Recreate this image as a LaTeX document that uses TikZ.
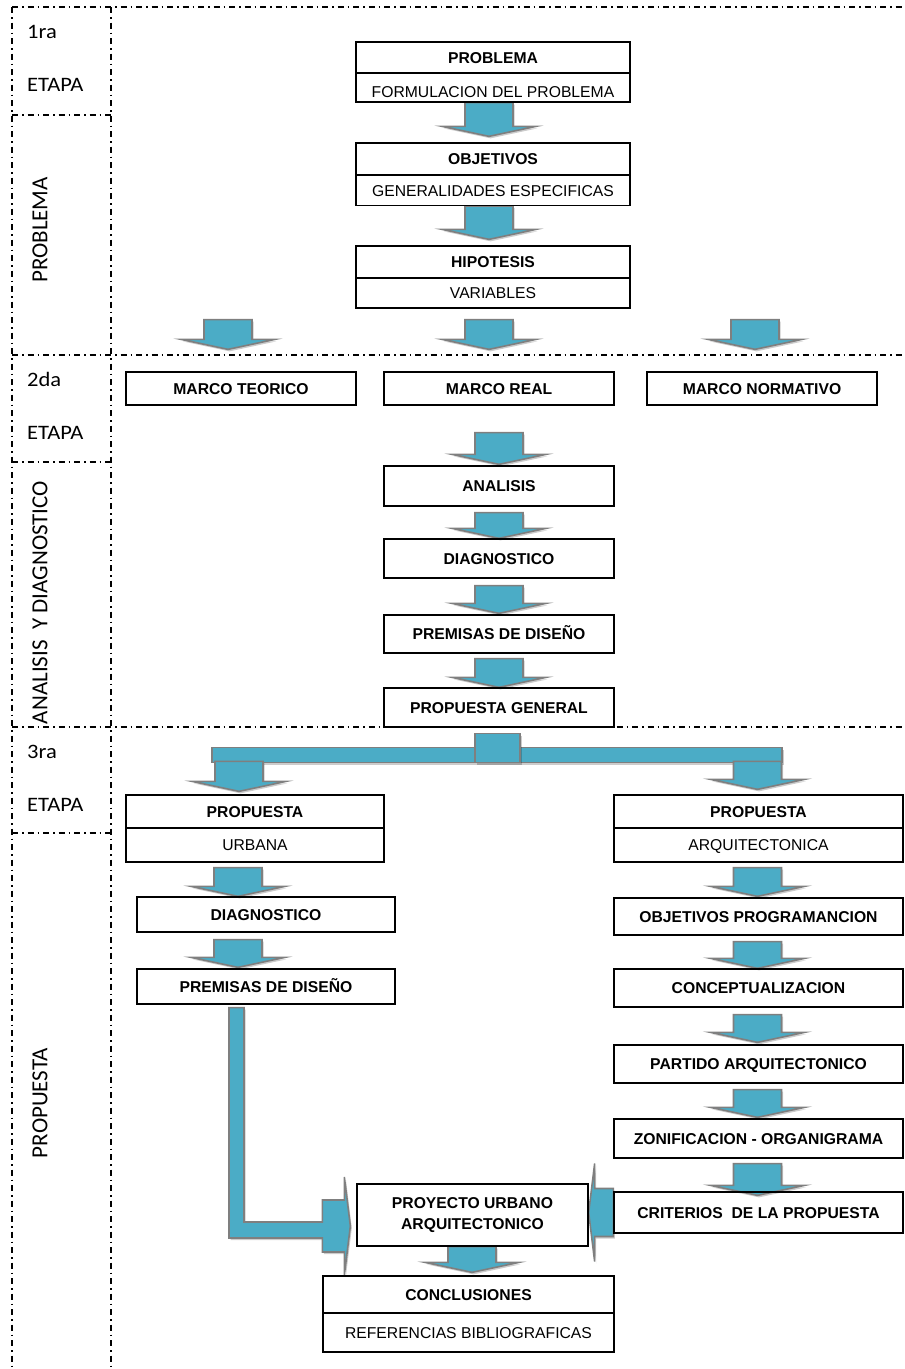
\documentclass[tikz,border=0pt]{standalone}
\usepackage{fontspec}
\setmainfont{Liberation Sans}
\newfontfamily\stagefont{Carlito}
\usetikzlibrary{calc,shadows}
\pgfdeclarelayer{arrows}
\pgfsetlayers{arrows,main}

\definecolor{flowteal}{HTML}{4BACC6}
\definecolor{flowgray}{HTML}{7F7F7F}

\tikzset{
  frame/.style={line width=1.1pt, dash pattern=on 6pt off 4pt on 1.5pt off 4pt},
  cell/.style 2 args={draw=black, line width=1.3pt, inner sep=0pt,
    minimum width=#1pt, minimum height=#2pt, align=center,
    text height=11.2pt, text depth=0pt},
  titletext/.style={font=\fontsize{15.7}{21}\selectfont\bfseries},
  subtext/.style={font=\fontsize{15.7}{18}\selectfont},
  stagetext/.style={font=\stagefont\fontsize{20.5}{24}\selectfont, inner sep=0pt},
  stagetitle/.style={font=\stagefont\fontsize{23}{26}\selectfont, inner sep=0pt, rotate=90},
  blockarrow/.style={fill=flowteal, draw=flowgray, line width=1.6pt, line join=miter,
    drop shadow={shadow xshift=1.5pt, shadow yshift=-2pt, fill=black, opacity=0.2}},
}

% downward block arrow: shaft starts at the height of #1, tip at #2
\newcommand\blockdown[2]{%
  \path[blockarrow] let \p1=#1, \p2=#2 in
    ({\x2-24pt},\y1) -- ({\x2+24pt},\y1) -- ({\x2+24pt},{\y2+10pt})
    -- ({\x2+47pt},{\y2+10pt}) -- (\x2,\y2) -- ({\x2-47pt},{\y2+10pt})
    -- ({\x2-24pt},{\y2+10pt}) -- cycle;}
\newcommand\wide[1]{\scalebox{1.1}[1]{#1}}

\begin{document}
\begin{tikzpicture}[x=1pt, y=-1pt]
\useasboundingbox (0,0) rectangle (905,1369);

% stage column
\draw[frame] (12,7) -- (905,7);
\draw[frame] (12,7) -- (12,1369);
\draw[frame] (111,7) -- (111,1369);
\draw[frame] (12,115) -- (111,115);
\draw[frame] (12,355) -- (905,355);
\draw[frame] (12,462) -- (111,462);
\draw[frame] (12,727) -- (905,727);
\draw[frame] (12,833) -- (111,833);

\node[stagetext, anchor=base west] (st1a) at (27,38) {\wide{1ra}};
\node[stagetext, anchor=base west] (st1b) at (27,91) {\wide{ETAPA}};
\node[stagetitle] (st1c) at (40,230) {PROBLEMA};
\node[stagetext, anchor=base west] (st2a) at (27,386) {\wide{2da}};
\node[stagetext, anchor=base west] (st2b) at (27,439) {\wide{ETAPA}};
\node[stagetitle] (st2c) at (40,602.5) {ANALISIS\ \ Y DIAGNOSTICO};
\node[stagetext, anchor=base west] (st3a) at (27,758) {\wide{3ra}};
\node[stagetext, anchor=base west] (st3b) at (27,811) {\wide{ETAPA}};
\node[stagetitle] (st3c) at (40,1103) {PROPUESTA};

% first stage
\node[cell={274}{31}, titletext] (prob) at (493,57.5) {PROBLEMA};
\node[cell={274}{29}, subtext, text height=19pt] (probsub) at (493,87.5) {FORMULACION DEL PROBLEMA};
\node[cell={274}{32}, titletext] (obj) at (493,159) {OBJETIVOS};
\node[cell={274}{30}, subtext] (objsub) at (493,190.5) {GENERALIDADES ESPECIFICAS};
\node[cell={274}{32}, titletext] (hip) at (493,262) {HIPOTESIS};
\node[cell={274}{30}, subtext] (hipsub) at (493,293) {VARIABLES};

% second stage
\node[cell={230}{33}, titletext] (mteo) at (241,388.5) {MARCO TEORICO};
\node[cell={230}{33}, titletext] (mreal) at (499,388.5) {MARCO REAL};
\node[cell={230}{33}, titletext] (mnorm) at (762,388.5) {MARCO NORMATIVO};
\node[cell={230}{40}, titletext] (anal) at (499,486) {ANALISIS};
\node[cell={230}{39}, titletext] (diag) at (499,558.5) {DIAGNOSTICO};
\node[cell={230}{38}, titletext] (prem) at (499,634) {PREMISAS DE DISEÑO};
\node[cell={230}{39}, titletext] (pgen) at (499,707.5) {PROPUESTA GENERAL};

% third stage
\node[cell={258}{33}, titletext] (purb) at (255,811.5) {PROPUESTA};
\node[cell={258}{34}, subtext] (purbsub) at (255,845) {URBANA};
\node[cell={289}{33}, titletext] (parq) at (758.5,811.5) {PROPUESTA};
\node[cell={289}{34}, subtext] (parqsub) at (758.5,845) {ARQUITECTONICA};
\node[cell={258}{35}, titletext] (diagl) at (266,914.5) {DIAGNOSTICO};
\node[cell={258}{35}, titletext] (preml) at (266,986.5) {PREMISAS DE DISEÑO};
\node[cell={289}{37}, titletext] (objprog) at (758.5,916.5) {OBJETIVOS PROGRAMANCION};
\node[cell={289}{38}, titletext] (concep) at (758.5,988) {CONCEPTUALIZACION};
\node[cell={289}{38}, titletext] (partido) at (758.5,1064) {PARTIDO ARQUITECTONICO};
\node[cell={289}{39}, titletext] (zonif) at (758.5,1138.5) {ZONIFICACION - ORGANIGRAMA};
\node[cell={289}{41}, titletext] (crit) at (758.5,1212.5) {CRITERIOS\ \ DE LA PROPUESTA};
\node[cell={231}{62}, titletext, text height=, text depth=] (proy) at (472.5,1215) {PROYECTO URBANO\\ARQUITECTONICO};
\node[cell={291}{37}, titletext] (concl) at (468.5,1294.5) {CONCLUSIONES};
\node[cell={291}{39}, subtext] (conclsub) at (468.5,1332.5) {REFERENCIAS BIBLIOGRAFICAS};

\begin{pgfonlayer}{arrows}
% first stage flow
\blockdown{(probsub.south)}{($(obj.north)+(-4,-6)$)}
\blockdown{(objsub.south)}{($(hip.north)+(-4,-6)$)}
\blockdown{($(hipsub.south)+(0,11)$)}{($(mteo.north)+(-13,-22)$)}
\blockdown{($(hipsub.south)+(0,11)$)}{($(mreal.north)+(-10,-22)$)}
\blockdown{($(hipsub.south)+(0,11)$)}{($(mnorm.north)+(-7,-22)$)}
% second stage flow
\blockdown{($(mreal.south)+(0,27)$)}{($(anal.north)+(0,-1)$)}
\blockdown{($(anal.south)+(0,6)$)}{(diag.north)}
\blockdown{($(diag.south)+(0,7)$)}{($(prem.north)+(0,-1)$)}
\blockdown{($(prem.south)+(0,5)$)}{(pgen.north)}
% split under the general proposal
\path[blockarrow] let \p1=(pgen.south), \p2=(purb.north), \p3=(parq.north) in
  ({\x2-43pt},{\y1-20pt}) rectangle ({\x3+23.5pt},{\y1-35pt});
\path[blockarrow] let \p1=(pgen.south) in
  ({\x1-24pt},{\y1-6pt}) rectangle ({\x1+21pt},{\y1-35pt});
\blockdown{($(purb.north)+(-16,-33)$)}{($(purb.north)+(-16,-3)$)}
\blockdown{($(parq.north)+(-1,-33)$)}{($(parq.north)+(-1,-5)$)}
% urban branch
\blockdown{($(purbsub.south)+(0,5)$)}{($(diagl.north)+(-28,0)$)}
\blockdown{($(diagl.south)+(0,7)$)}{($(preml.north)+(-28,-1)$)}
% architectural branch
\blockdown{($(parqsub.south)+(0,5)$)}{($(objprog.north)+(-1,-1)$)}
\blockdown{($(objprog.south)+(0,6)$)}{($(concep.north)+(-1,0)$)}
\blockdown{($(concep.south)+(0,7)$)}{($(partido.north)+(-1,-2)$)}
\blockdown{($(partido.south)+(0,6)$)}{($(zonif.north)+(-1,-1)$)}
\blockdown{($(zonif.south)+(0,5)$)}{($(crit.north)+(-1,4)$)}
% urban premises into the project (elbow arrow)
\path[blockarrow] let \p1=(preml.south), \p2=(proy.west) in
  ({\x1-37pt},{\y1-3pt}) -- ({\x1-22pt},{\y1-3pt}) -- ({\x1-22pt},{\y2-7pt})
  -- ({\x2-34pt},{\y2-7pt}) -- ({\x2-34pt},{\y2+15pt}) -- ({\x2-12pt},{\y2+15pt})
  -- ({\x2-12pt},{\y2+38pt}) -- ({\x2-6pt},{\y2-11pt}) -- ({\x2-12pt},{\y2-60pt})
  -- ({\x2-12pt},{\y2-37pt}) -- ({\x2-34pt},{\y2-37pt}) -- ({\x2-34pt},{\y2-23pt})
  -- ({\x1-37pt},{\y2-23pt}) -- cycle;
% criteria into the project
\path[blockarrow] let \p1=(crit.west), \p2=(proy.east) in
  (\x1,{\y1+24pt}) -- ({\x2+6pt},{\y1+24pt}) -- ({\x2+6pt},{\y1+49pt}) -- (\x2,\y1)
  -- ({\x2+6pt},{\y1-49pt}) -- ({\x2+6pt},{\y1-24pt}) -- (\x1,{\y1-24pt}) -- cycle;
% project to conclusions
\blockdown{(proy.south)}{($(concl.north)+(3.5,-3)$)}
\end{pgfonlayer}
\end{tikzpicture}
\end{document}
